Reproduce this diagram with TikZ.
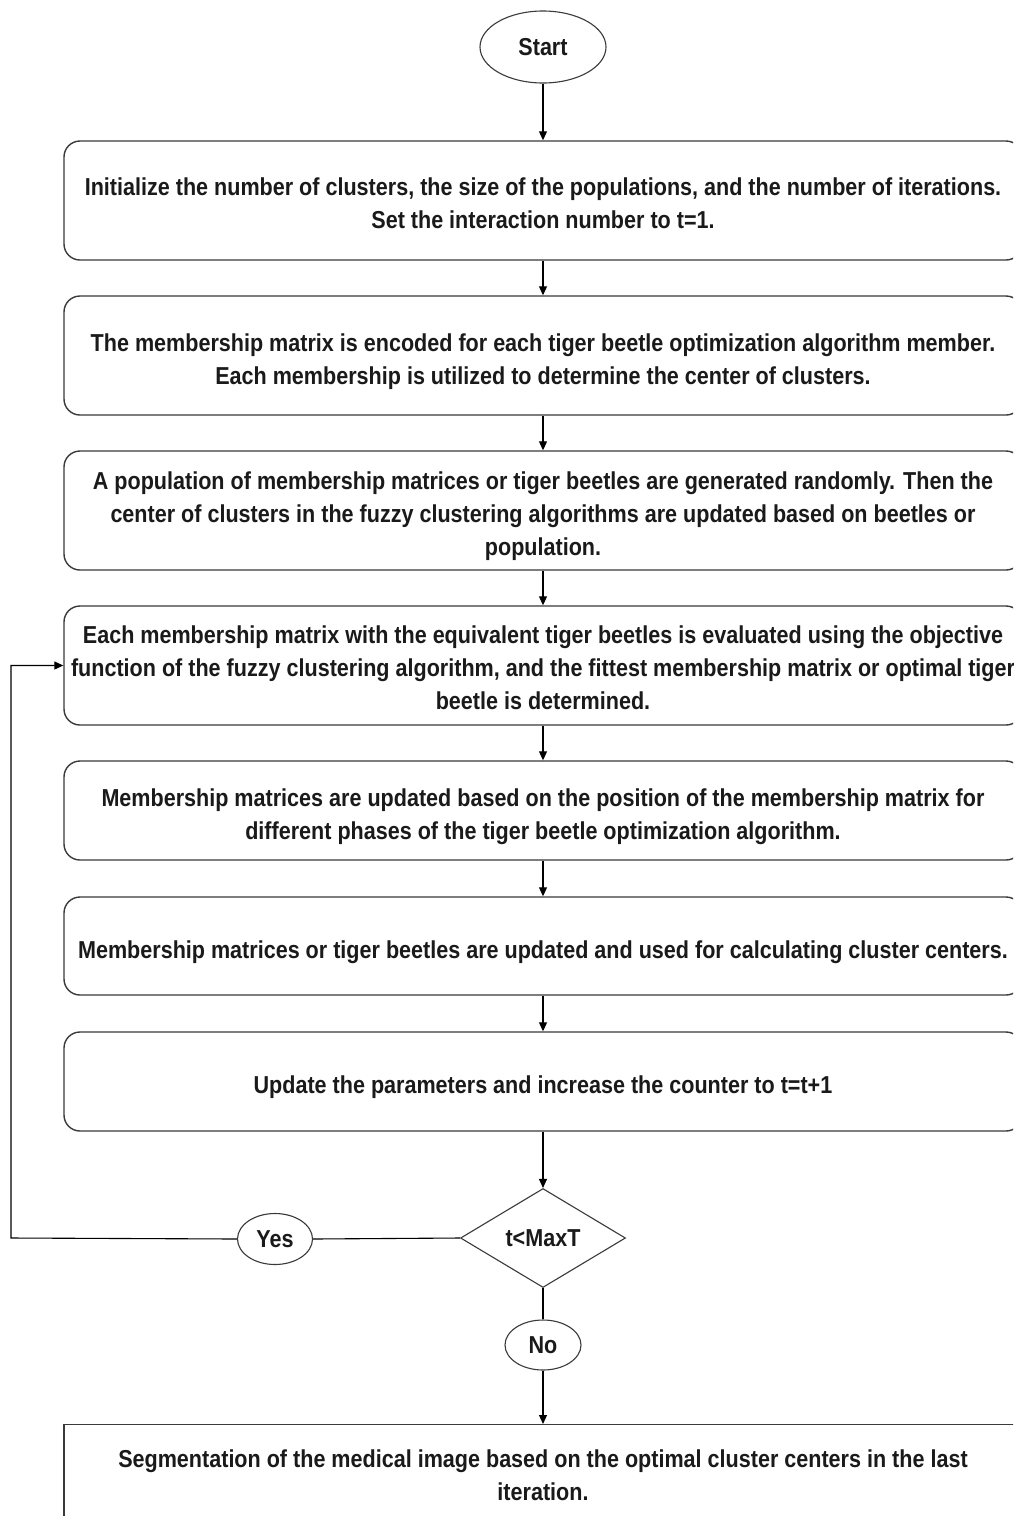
\documentclass[tikz,border=0pt]{standalone}
\usepackage{fontspec}
\setmainfont{Liberation Sans}[FakeStretch=0.88]
\usetikzlibrary{shapes.geometric,arrows.meta}
\definecolor{lc}{HTML}{3A3A3A}
\definecolor{tc}{HTML}{1A1A1A}
\newcommand\tstrut[1][30pt]{\rule{0pt}{#1}}
\tikzset{
  stepbox/.style={draw=lc,line width=1.4pt,rounded corners=16pt,minimum width=958pt,inner sep=0pt,align=center,text=tc,font=\fontsize{24.5}{33}\selectfont\bfseries},
  oval/.style={ellipse,draw=lc,line width=1.1pt,inner sep=0pt,text=tc,font=\fontsize{24.5}{28}\selectfont\bfseries},
  decide/.style={diamond,draw=lc,line width=1.1pt,inner sep=0pt,aspect=1.67,minimum width=165pt,minimum height=99pt,text=tc,font=\fontsize{24.5}{28}\selectfont\bfseries},
  conn/.style={draw=black,line width=1.1pt},
  arr/.style={conn,-{Triangle[length=9pt,width=8pt]}}
}
\begin{document}
\begin{tikzpicture}[x=1pt,y=-1pt]
\useasboundingbox (0,0) rectangle (1013,1516);
\fill[white] (0,0) rectangle (1013,1516);
\clip (0,0) rectangle (1013,1516);
\node[oval,minimum width=126pt,minimum height=72pt] (start) at (543,47) {Start};
\node[stepbox,minimum height=119pt] (b1) at (543,200.5) {\tstrut[24pt]Initialize the number of clusters, the size of the populations, and the number of iterations.\\Set the interaction number to t=1.};
\node[stepbox,minimum height=119pt] (b2) at (543,355.5) {\tstrut The membership matrix is encoded for each tiger beetle optimization algorithm member.\\Each membership is utilized to determine the center of clusters.};
\node[stepbox,minimum height=119pt] (b3) at (543,510.5) {\tstrut A population of membership matrices or tiger beetles are generated randomly. Then the\\center of clusters in the fuzzy clustering algorithms are updated based on beetles or\\population.};
\node[stepbox,minimum height=119pt] (b4) at (543,665.5) {\tstrut[22pt]Each membership matrix with the equivalent tiger beetles is evaluated using the objective\\function of the fuzzy clustering algorithm, and the fittest membership matrix or optimal tiger\\beetle is determined.};
\node[stepbox,minimum height=99pt] (b5) at (543,810.5) {\tstrut Membership matrices are updated based on the position of the membership matrix for\\different phases of the tiger beetle optimization algorithm.};
\node[stepbox,minimum height=98pt] (b6) at (543,946) {\tstrut Membership matrices or tiger beetles are updated and used for calculating cluster centers.};
\node[stepbox,minimum height=99pt] (b7) at (543,1081.5) {\tstrut Update the parameters and increase the counter to t=t+1};
\node[decide] (dec) at (543,1238) {t<MaxT};
\node[oval,minimum width=75pt,minimum height=51pt] (yes) at (275,1239) {Yes};
\node[oval,minimum width=76pt,minimum height=50pt] (no) at (543,1345) {No};
\node[stepbox,rounded corners=0pt,minimum height=101pt,anchor=north] (fin) at (543,1424) {Segmentation of the medical image based on the optimal cluster centers in the last\\iteration.};
\coordinate (lp) at (11,1238);
\draw[arr] (start) -- (b1);
\draw[arr] (b1) -- (b2);
\draw[arr] (b2) -- (b3);
\draw[arr] (b3) -- (b4);
\draw[arr] (b4) -- (b5);
\draw[arr] (b5) -- (b6);
\draw[arr] (b6) -- (b7);
\draw[arr] (b7) -- (dec);
\draw[conn] (dec) -- (no);
\draw[arr] (no) -- (fin);
\draw[conn] (dec.west) -- (yes.east);
\draw[arr] (yes.west) -- (lp) |- (b4.west);
\end{tikzpicture}
\end{document}
